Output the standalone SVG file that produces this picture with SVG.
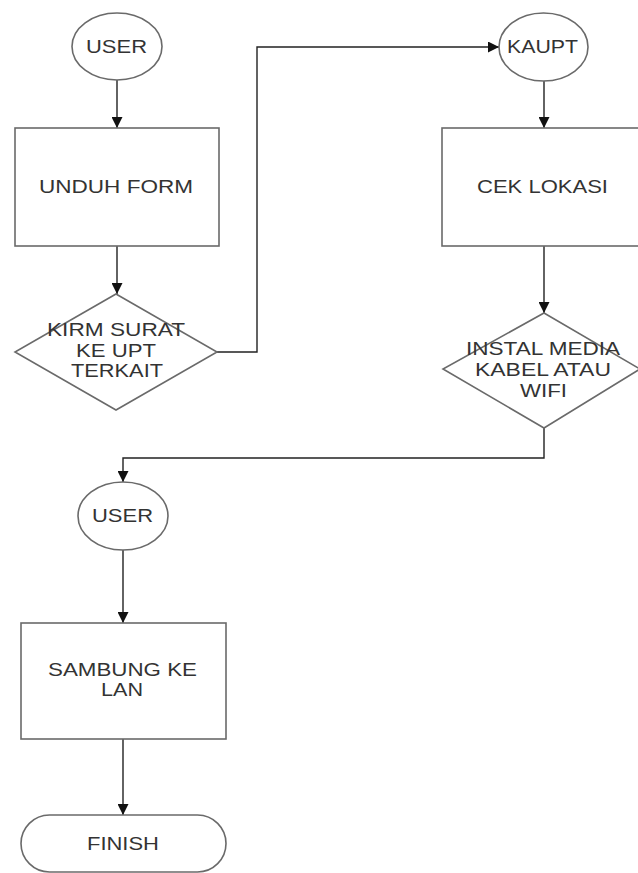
<svg xmlns="http://www.w3.org/2000/svg" width="638" height="873" viewBox="0 0 638 873">
<style>
.shape{fill:#fff;stroke:#6a6a6a;stroke-width:1.6}
.conn{fill:none;stroke:#222;stroke-width:1.4}
text{font-family:"Liberation Sans",Arial,sans-serif;font-size:18px;fill:#333;text-anchor:middle}
</style>
<defs>
<marker id="arr" viewBox="0 0 10 10" refX="10" refY="5" markerWidth="11" markerHeight="11" markerUnits="userSpaceOnUse" orient="auto">
<path d="M0,0 L10,5 L0,10 z" fill="#111"/>
</marker>
</defs>
<rect width="638" height="873" fill="#fff"/>
<g id="connectors">
<path class="conn" d="M117,80 V128" marker-end="url(#arr)"/>
<path class="conn" d="M117,246 V294" marker-end="url(#arr)"/>
<path class="conn" d="M217,352 H257 V47 H499" marker-end="url(#arr)"/>
<path class="conn" d="M544,81 V128" marker-end="url(#arr)"/>
<path class="conn" d="M544,246 V313" marker-end="url(#arr)"/>
<path class="conn" d="M544,428 V458 H123 V482" marker-end="url(#arr)"/>
<path class="conn" d="M123,550 V623" marker-end="url(#arr)"/>
<path class="conn" d="M123,739 V815" marker-end="url(#arr)"/>
</g>
<g id="user1">
<ellipse class="shape" cx="117" cy="46.5" rx="45" ry="33.5"/>
<text x="116.5" y="53" textLength="61" lengthAdjust="spacingAndGlyphs">USER</text>
</g>
<g id="unduh">
<rect class="shape" x="15" y="128" width="204" height="118"/>
<text x="116" y="193" textLength="154" lengthAdjust="spacingAndGlyphs">UNDUH FORM</text>
</g>
<g id="kirim">
<polygon class="shape" points="116,294 217,352 116,410 15,352"/>
<text x="116" y="336" textLength="138" lengthAdjust="spacingAndGlyphs">KIRM SURAT</text>
<text x="116" y="357" textLength="80" lengthAdjust="spacingAndGlyphs">KE UPT</text>
<text x="117" y="377" textLength="92" lengthAdjust="spacingAndGlyphs">TERKAIT</text>
</g>
<g id="kaupt">
<ellipse class="shape" cx="543.5" cy="47" rx="44.5" ry="34"/>
<text x="542.5" y="53" textLength="71" lengthAdjust="spacingAndGlyphs">KAUPT</text>
</g>
<g id="cek">
<rect class="shape" x="442" y="128" width="210" height="118"/>
<text x="542.5" y="193" textLength="131" lengthAdjust="spacingAndGlyphs">CEK LOKASI</text>
</g>
<g id="instal">
<polygon class="shape" points="544,313 640,369 544,428 443,369"/>
<text x="543" y="355" textLength="154" lengthAdjust="spacingAndGlyphs">INSTAL MEDIA</text>
<text x="543" y="376" textLength="136" lengthAdjust="spacingAndGlyphs">KABEL ATAU</text>
<text x="543.5" y="397" textLength="47" lengthAdjust="spacingAndGlyphs">WIFI</text>
</g>
<g id="user2">
<ellipse class="shape" cx="123" cy="516" rx="45" ry="34"/>
<text x="122.5" y="522" textLength="61" lengthAdjust="spacingAndGlyphs">USER</text>
</g>
<g id="sambung">
<rect class="shape" x="21" y="623" width="205" height="116"/>
<text x="122.5" y="676" textLength="149" lengthAdjust="spacingAndGlyphs">SAMBUNG KE</text>
<text x="122" y="696" textLength="42" lengthAdjust="spacingAndGlyphs">LAN</text>
</g>
<g id="finish">
<rect class="shape" x="21" y="815" width="205" height="57" rx="28.5" ry="28.5"/>
<text x="123" y="850" textLength="72" lengthAdjust="spacingAndGlyphs">FINISH</text>
</g>
</svg>
